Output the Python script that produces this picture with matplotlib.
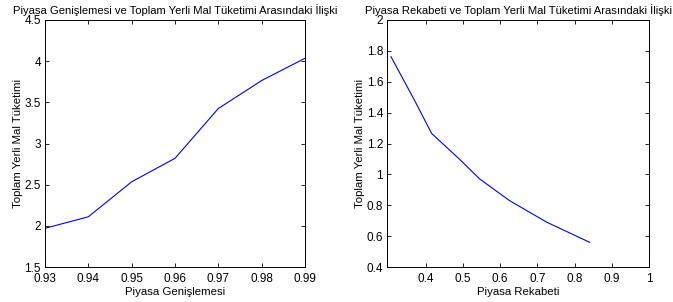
import matplotlib
matplotlib.use("Agg")
import matplotlib.pyplot as plt
from matplotlib.ticker import FuncFormatter

plt.rcParams['font.family'] = ['Liberation Sans', 'DejaVu Sans']

# left panel: market expansion vs domestic consumption
genisleme = [0.93, 0.94, 0.95, 0.96, 0.97, 0.98, 0.99]
tuketim_1 = [1.97, 2.11, 2.535, 2.82, 3.425, 3.765, 4.035]

# right panel: market competition vs domestic consumption
rekabet = [0.307, 0.37, 0.416, 0.49, 0.545, 0.625, 0.725, 0.84]
tuketim_2 = [1.762, 1.48, 1.265, 1.10, 0.97, 0.83, 0.69, 0.56]

left_yticks = [1.5, 2, 2.5, 3, 3.5, 4, 4.5]
right_xticks = [0.4, 0.5, 0.6, 0.7, 0.8, 0.9, 1.0]
right_yticks = [0.4, 0.6, 0.8, 1.0, 1.2, 1.4, 1.6, 1.8, 2.0]

fig = plt.figure(figsize=(6.73, 3.02), dpi=100)
ax1 = fig.add_axes([45 / 673, 35 / 302, 260 / 673, 247 / 302])
ax2 = fig.add_axes([387.3 / 673, 35 / 302, 262 / 673, 247 / 302])

fmt = FuncFormatter(lambda v, p: '%g' % round(v, 4))

for ax in (ax1, ax2):
    ax.tick_params(direction='in', length=3, width=0.6, labelsize=8.5,
                   top=True, right=True)
    ax.tick_params(axis='x', pad=4)
    ax.tick_params(axis='y', pad=3)
    for s in ax.spines.values():
        s.set_linewidth(0.7)
    ax.xaxis.set_major_formatter(fmt)
    ax.yaxis.set_major_formatter(fmt)

ax1.plot(genisleme, tuketim_1, color='#0000ff', lw=0.8)
ax1.set_xlim(0.93, 0.99)
ax1.set_ylim(1.5, 4.5)
ax1.set_xticks(genisleme)
ax1.set_yticks(left_yticks)
ax1.set_title('Piyasa Genişlemesi ve Toplam Yerli Mal Tüketimi Arasındaki İlişki',
              fontsize=8.1, pad=4)
ax1.set_xlabel('Piyasa Genişlemesi', fontsize=8.2, labelpad=2)
ax1.set_ylabel('Toplam Yerli Mal Tüketimi', fontsize=8.2, labelpad=1)

ax2.plot(rekabet, tuketim_2, color='#0000ff', lw=0.8)
ax2.set_xlim(0.297, 1.0)
ax2.set_ylim(0.4, 2.0)
ax2.set_xticks(right_xticks)
ax2.set_yticks(right_yticks)
ax2.set_title('Piyasa Rekabeti ve Toplam Yerli Mal Tüketimi Arasındaki İlişki',
              fontsize=8.1, pad=4)
ax2.set_xlabel('Piyasa Rekabeti', fontsize=8.2, labelpad=2)
ax2.set_ylabel('Toplam Yerli Mal Tüketimi', fontsize=8.2, labelpad=1)

fig.savefig('out.png', dpi=100)
